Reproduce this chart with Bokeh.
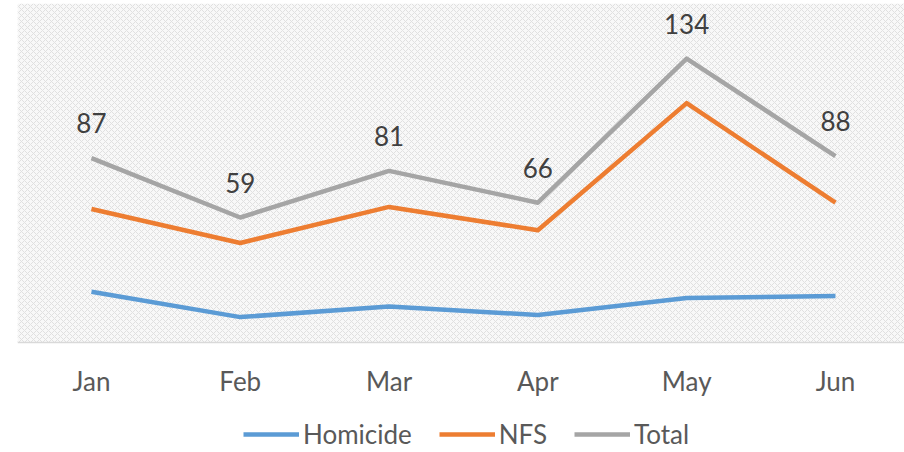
from bokeh.plotting import figure
from bokeh.models import Range1d, BoxAnnotation, Legend, LegendItem, ColumnDataSource
from bokeh.core.properties import value
from bokeh.embed import file_html
from bokeh.resources import INLINE

months = ["Jan", "Feb", "Mar", "Apr", "May", "Jun"]
homicide = [24, 12, 17, 13, 21, 22]
nfs = [63, 47, 64, 53, 113, 66]
total = [87, 59, 81, 66, 134, 88]

FONT = "Lato"
idx = list(range(len(months)))
src = ColumnDataSource(dict(x=idx, hom=homicide, nfs=nfs, tot=total,
                            lab=[str(v) for v in total]))

p = figure(width=904, height=452, output_backend="svg", toolbar_location=None,
           x_range=Range1d(-0.497, 5.464), y_range=Range1d(-51.9, 160),
           min_border_left=17, min_border_right=0, min_border_top=3, min_border_bottom=0)
p.outline_line_color = None
p.background_fill_color = "white"
p.border_fill_color = "white"
p.xgrid.visible = False
p.ygrid.visible = False
p.yaxis.visible = False

p.add_layout(BoxAnnotation(bottom=0, fill_color="#f8f8f8", fill_alpha=1.0, line_color=None,
                           hatch_pattern="diagonal_cross", hatch_color="#e0e0e0",
                           hatch_scale=6, hatch_weight=1, hatch_alpha=1.0,
                           level="underlay"))

xa = p.xaxis[0]
xa.fixed_location = 0
xa.ticker = idx
xa.major_label_overrides = {i: m for i, m in enumerate(months)}
xa.axis_line_color = "#d9d9d9"
xa.axis_line_width = 1.5
xa.major_tick_line_color = None
xa.minor_tick_line_color = None
xa.major_label_standoff = 16
xa.major_label_text_font = FONT
xa.major_label_text_font_size = "26px"
xa.major_label_text_color = "#595959"

r1 = p.line("x", "hom", source=src, line_color="#5B9BD5", line_width=4.5, line_join="round")
r2 = p.line("x", "nfs", source=src, line_color="#ED7D31", line_width=4.5, line_join="round")
r3 = p.line("x", "tot", source=src, line_color="#A5A5A5", line_width=4.5, line_join="round")

p.text("x", "tot", text="lab", source=src, text_align="center", text_baseline="middle",
       y_offset=-35, text_font=value(FONT), text_font_size="26px", text_color="#404040")

legend = Legend(items=[LegendItem(label="Homicide", renderers=[r1]),
                       LegendItem(label="NFS", renderers=[r2]),
                       LegendItem(label="Total", renderers=[r3])],
                orientation="horizontal", location=(226, 2),
                glyph_width=56, glyph_height=20, label_standoff=4, spacing=27,
                label_text_font=FONT, label_text_font_size="26px",
                label_text_color="#595959", border_line_color=None,
                background_fill_alpha=0, padding=0, margin=0)
p.add_layout(legend, "center")

open("out.html", "w").write(file_html(p, INLINE))
